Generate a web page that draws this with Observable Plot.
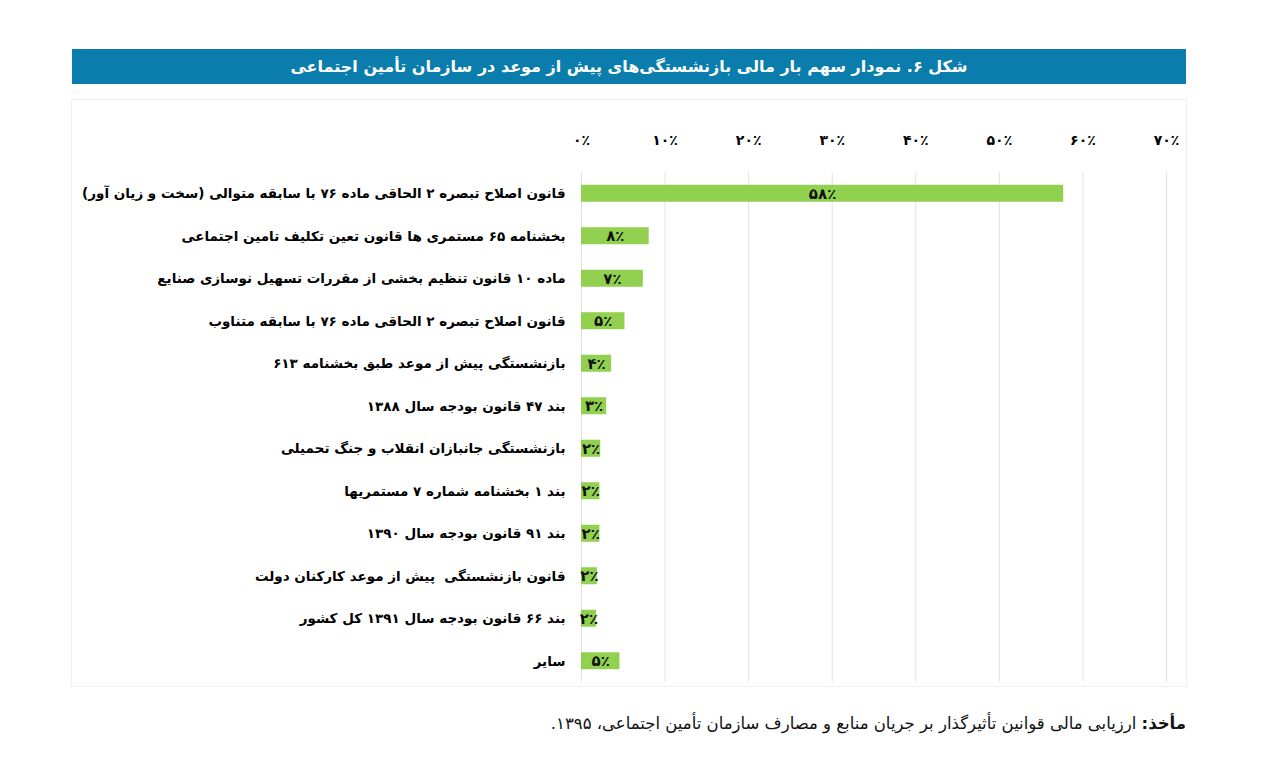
<!DOCTYPE html>
<html>
<head>
<meta charset="utf-8">
<script src="https://cdn.jsdelivr.net/npm/d3@7"></script>
<script src="https://cdn.jsdelivr.net/npm/@observablehq/plot@0.6"></script>
<style>
  body { margin: 0; background: #fff; width: 1280px; height: 781px; position: relative; overflow: hidden; font-family: "DejaVu Sans", sans-serif; }
  #title { position: absolute; left: 72px; top: 49px; width: 1114px; height: 35px; background: #0b7dac; color: #fff; font-weight: bold; font-size: 16px; line-height: 35px; text-align: center; direction: rtl; }
  #panel { position: absolute; left: 72px; top: 100px; width: 1114px; height: 586px; outline: 1px solid #efefef; }
  #panel svg { display: block; }
  #caption { position: absolute; right: 94px; top: 714px; direction: rtl; font-size: 16.5px; color: #111; white-space: nowrap; }
</style>
</head>
<body>
<div id="title">شکل ۶. نمودار سهم بار مالی بازنشستگی‌های پیش از موعد در سازمان تأمین اجتماعی</div>
<div id="panel"></div>
<div id="caption"><b>مأخذ:</b> ارزیابی مالی قوانین تأثیرگذار بر جریان منابع و مصارف سازمان تأمین اجتماعی، ۱۳۹۵.</div>
<script>
const categories = [
  "قانون اصلاح تبصره ۲ الحاقی ماده ۷۶ با سابقه متوالی (سخت و زیان آور)",
  "بخشنامه ۶۵ مستمری ها قانون تعین تکلیف تامین اجتماعی",
  "ماده ۱۰ قانون تنظیم بخشی از مقررات تسهیل نوسازی صنایع",
  "قانون اصلاح تبصره ۲ الحاقی ماده ۷۶ با سابقه متناوب",
  "بازنشستگی پیش از موعد طبق بخشنامه ۶۱۳",
  "بند ۴۷ قانون بودجه سال ۱۳۸۸",
  "بازنشستگی جانبازان انقلاب و جنگ تحمیلی",
  "بند ۱ بخشنامه شماره ۷ مستمریها",
  "بند ۹۱ قانون بودجه سال ۱۳۹۰",
  "قانون بازنشستگی  پیش از موعد کارکنان دولت",
  "بند ۶۶ قانون بودجه سال ۱۳۹۱ کل کشور",
  "سایر"
];
const shares = [57.7, 8.1, 7.4, 5.2, 3.6, 3.0, 2.3, 2.2, 2.2, 1.9, 1.8, 4.6];
const barLabels = [58, 8, 7, 5, 4, 3, 2, 2, 2, 2, 2, 5];
const xTicks = [0, 10, 20, 30, 40, 50, 60, 70];

const fa = n => String(n).replace(/\d/g, d => "۰۱۲۳۴۵۶۷۸۹"[d]);
const rows = categories.map((label, i) => ({label, value: shares[i], text: fa(barLabels[i]) + "٪"}));

const chart = Plot.plot({
  width: 1114,
  height: 586,
  marginLeft: 509,
  marginRight: 20,
  marginTop: 72,
  marginBottom: 4,
  style: {fontFamily: "DejaVu Sans, sans-serif", color: "#000", background: "transparent"},
  x: {domain: [0, 70], label: null},
  y: {domain: categories, paddingInner: 0.6, paddingOuter: 0.3, round: false, label: null},
  marks: [
    Plot.gridX(xTicks, {stroke: "#e2e2e2", strokeOpacity: 1}),
    Plot.barX(rows, {x: "value", y: "label", fill: "#92d050"}),
    Plot.text(rows, {x: d => d.value / 2, y: "label", text: "text", fontSize: 15, fontWeight: "bold", fill: "#111"}),
    Plot.axisX(xTicks, {anchor: "top", tickSize: 0, tickPadding: 28, tickFormat: d => fa(d) + "٪", fontSize: 14, fontWeight: "bold", label: null}),
    Plot.axisY({tickSize: 0, tickPadding: 16, tickFormat: d => "\u202B" + d + "\u202C", fontSize: 13.5, fontWeight: "bold", label: null})
  ]
});
document.getElementById("panel").appendChild(chart);
</script>
</body>
</html>
